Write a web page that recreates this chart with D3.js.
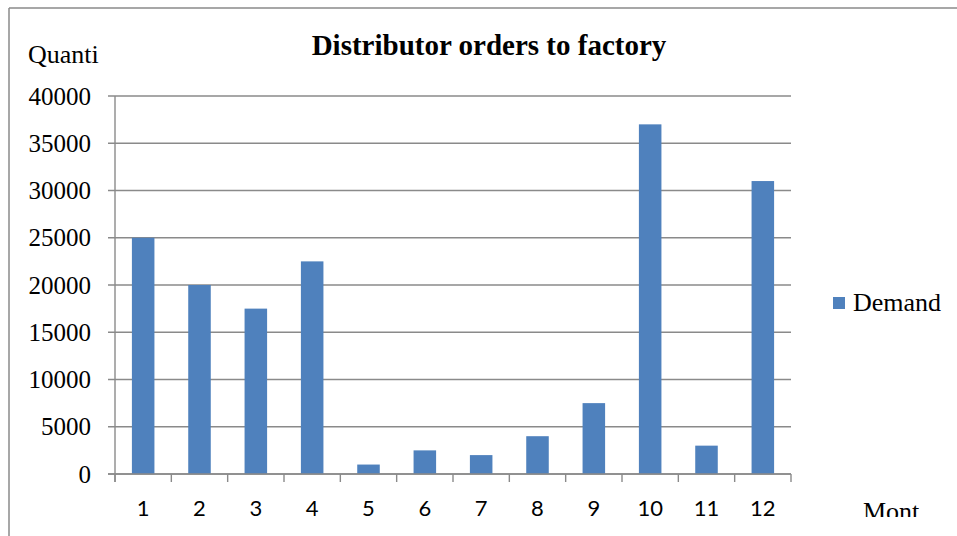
<!DOCTYPE html>
<html>
<head>
<meta charset="utf-8">
<script src="https://cdn.jsdelivr.net/npm/d3@7"></script>
<style>
  body { margin: 0; background: #fff; }
  svg { display: block; }
</style>
</head>
<body>
<script>
// chart data
var months = ["1", "2", "3", "4", "5", "6", "7", "8", "9", "10", "11", "12"];
var demand = [25000, 20000, 17500, 22500, 1000, 2500, 2000, 4000, 7500, 37000, 3000, 31000];
var yTicks = [0, 5000, 10000, 15000, 20000, 25000, 30000, 35000, 40000];
var seriesName = "Demand";

var w = 957, h = 536;
// plot area edges (note: "top" is reserved on window, so use plotTop)
var plotLeft = 115, plotRight = 791, plotTop = 96, plotBottom = 474;
var gridColor = "#8a8a8a";
var barColor = "#4f81bd";

var svg = d3.select("body").append("svg")
    .attr("width", w)
    .attr("height", h);

// clip for the cut-off bottom of the picture
svg.append("defs").append("clipPath").attr("id", "cut")
    .append("rect").attr("x", 0).attr("y", 0).attr("width", w).attr("height", 517);

// outer frame (only left and top edges are visible)
svg.append("line").attr("x1", 9).attr("x2", 9).attr("y1", 8).attr("y2", h)
    .attr("stroke", gridColor).attr("stroke-width", 1.5);
svg.append("line").attr("x1", 9).attr("x2", w).attr("y1", 8).attr("y2", 8)
    .attr("stroke", gridColor).attr("stroke-width", 1.5);

var g = svg.append("g").attr("clip-path", "url(#cut)");

var x = d3.scaleBand()
    .domain(months)
    .range([plotLeft, plotRight])
    .paddingInner(0.6)
    .paddingOuter(0.3);

var y = d3.scaleLinear()
    .domain([0, 40000])
    .range([plotBottom, plotTop]);

// gridlines + y ticks
g.selectAll(".grid")
    .data(yTicks).enter()
    .append("line")
    .attr("class", "grid")
    .attr("x1", plotLeft - 7)
    .attr("x2", plotRight)
    .attr("y1", function (d) { return y(d); })
    .attr("y2", function (d) { return y(d); })
    .attr("stroke", gridColor)
    .attr("stroke-width", 1.4);

// y axis line
g.append("line").attr("x1", plotLeft).attr("x2", plotLeft).attr("y1", plotTop).attr("y2", plotBottom + 8)
    .attr("stroke", gridColor).attr("stroke-width", 1.4);

// x ticks at category boundaries
var step = x.step();
var xTickPos = d3.range(months.length + 1).map(function (i) { return plotLeft + i * step; });
g.selectAll(".xtick")
    .data(xTickPos).enter()
    .append("line")
    .attr("x1", function (d) { return d; })
    .attr("x2", function (d) { return d; })
    .attr("y1", plotBottom)
    .attr("y2", plotBottom + 8)
    .attr("stroke", gridColor)
    .attr("stroke-width", 1.4);

// bars
g.selectAll(".bar")
    .data(demand).enter()
    .append("rect")
    .attr("class", "bar")
    .attr("x", function (d, i) { return x(months[i]); })
    .attr("width", x.bandwidth())
    .attr("y", function (d) { return y(d); })
    .attr("height", function (d) { return y(0) - y(d); })
    .attr("fill", barColor);

// x axis baseline on top of bars
g.append("line").attr("x1", plotLeft - 7).attr("x2", plotRight).attr("y1", plotBottom).attr("y2", plotBottom)
    .attr("stroke", gridColor).attr("stroke-width", 1.4);

// y tick labels
g.selectAll(".ylab")
    .data(yTicks).enter()
    .append("text")
    .attr("x", 91)
    .attr("y", function (d) { return y(d); })
    .attr("dy", "0.34em")
    .attr("text-anchor", "end")
    .style("font-family", "'Liberation Serif', 'Times New Roman', serif")
    .style("font-size", "25px")
    .attr("fill", "#000")
    .text(function (d) { return d; });

// x tick labels
g.selectAll(".xlab")
    .data(months).enter()
    .append("text")
    .attr("x", function (d) { return x(d) + x.bandwidth() / 2; })
    .attr("y", 516)
    .attr("text-anchor", "middle")
    .style("font-family", "Lato, 'Liberation Sans', sans-serif")
    .style("font-size", "22px")
    .attr("fill", "#000")
    .text(function (d) { return d; });

// title
g.append("text")
    .attr("x", 489)
    .attr("y", 55)
    .attr("text-anchor", "middle")
    .style("font-family", "'Liberation Serif', 'Times New Roman', serif")
    .style("font-size", "29px")
    .style("font-weight", "bold")
    .text("Distributor orders to factory");

// axis titles (truncated as in the original)
g.append("text")
    .attr("x", 28)
    .attr("y", 63)
    .style("font-family", "'Liberation Serif', 'Times New Roman', serif")
    .style("font-size", "26px")
    .text("Quanti");

g.append("text")
    .attr("x", 863)
    .attr("y", 520)
    .style("font-family", "'Liberation Serif', 'Times New Roman', serif")
    .style("font-size", "26px")
    .text("Mont");

// legend
g.append("rect")
    .attr("x", 833).attr("y", 297)
    .attr("width", 12).attr("height", 12)
    .attr("fill", barColor);
g.append("text")
    .attr("x", 853)
    .attr("y", 311)
    .style("font-family", "'Liberation Serif', 'Times New Roman', serif")
    .style("font-size", "26px")
    .text(seriesName);
</script>
</body>
</html>
